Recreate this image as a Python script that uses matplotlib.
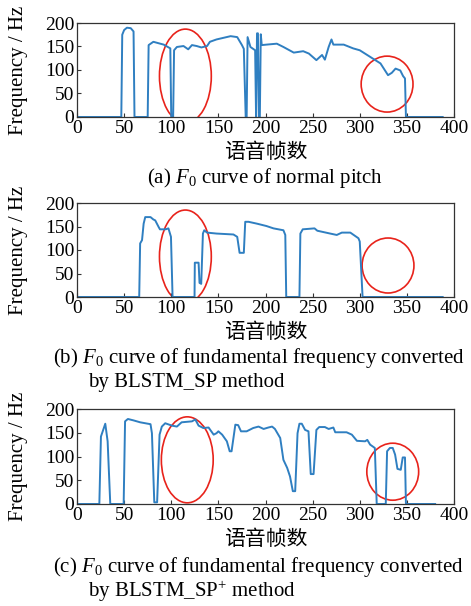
#!/usr/bin/env python3
"""F0 curves: normal pitch vs. BLSTM_SP vs. BLSTM_SP+ conversion"""

import matplotlib
matplotlib.use('Agg')
import matplotlib.pyplot as plt
from matplotlib.patches import Ellipse

# (a) normal pitch
frames_a = [0, 47, 48, 50, 53, 57, 60, 61, 75, 76, 81, 92, 99, 100, 102, 103, 106, 113, 118,
            122, 127, 132, 138, 141, 148, 163, 170, 175, 177, 179, 180, 181, 184, 189, 190, 191,
            192, 193, 194, 195, 196, 201, 212, 219, 230, 240, 246, 254, 260, 263, 267, 270, 272,
            283, 293, 300, 311, 322, 330, 334, 338, 343, 346, 348, 349, 388]
f0_a = [0, 0, 175, 185, 190, 189, 182, 0, 0, 153, 160, 154, 146, 0, 0, 142, 149, 151, 144,
        153, 151, 148, 151, 160, 165, 172, 170, 153, 145, 0, 0, 170, 149, 142, 0, 178,
        178, 0, 0, 176, 153, 154, 156, 149, 137, 140, 135, 121, 132, 122, 149, 165, 154,
        154, 146, 142, 128, 114, 89, 94, 103, 99, 87, 82, 0, 0]

# (b) BLSTM_SP
frames_b = [0, 66, 67, 69, 70.7, 72.4, 78, 81, 83, 86.6, 88, 94, 97, 99.7, 101.4, 124.7, 125,
            129, 130, 131.8, 133.6, 135, 138, 148, 166, 170, 172.5, 177, 178.5, 182, 191, 201,
            208.5, 219, 221, 222, 236, 237, 239.5, 252, 255, 268.6, 275.6, 281, 290, 298.6,
            300, 303, 388]
f0_b = [0, 0, 114, 121, 156, 170, 170, 165, 163, 149, 144, 144, 146, 128, 0, 0, 73,
        73, 30, 28, 135, 142, 137, 135, 133, 128, 94, 94, 160, 160, 156, 151,
        146, 142, 132, 0, 0, 135, 144, 146, 141, 135, 132, 137, 137, 125,
        118, 0, 0]

# (c) BLSTM_SP+
frames_c = [0, 23.7, 25.4, 30, 32.5, 35.3, 49.5, 51, 54, 60, 67, 78, 79.5, 82, 85, 87.6, 90,
            93.6, 100.7, 106, 111, 122, 125.5, 129, 134, 139.6, 145, 148, 150, 154, 159, 162,
            164, 168, 171, 174, 180, 187, 192.6, 198, 203, 207, 210, 215.6, 219, 223, 226, 229,
            231.5, 234, 236, 238.5, 242, 245.6, 248, 251, 254, 257, 263, 267, 272, 274, 286,
            291.6, 297, 305.7, 308, 311, 316, 318, 327.6, 329, 332, 335, 337.5, 340, 343.5,
            345.6, 348, 349, 380]
f0_c = [0, 0, 142, 169, 132, 0, 0, 174, 179, 176, 172, 168, 149, 3.5, 3.5, 146, 163,
        170, 165, 163, 172, 174, 178, 165, 160, 161, 146, 149, 153, 146, 132, 111,
        111, 167, 166, 153, 153, 160, 163, 158, 161, 163, 158, 139, 93, 76, 58, 27,
        27, 149, 169, 169, 156, 153, 63, 63, 156, 162, 162, 158, 161, 151, 151,
        146, 133, 132, 135, 125, 118, 0, 0, 111, 118, 118, 104, 74, 72,
        98, 98, 0, 0]

# highlighted regions: (center frame, center Hz, width, height)
circles_a = [(115, 87, 55, 200), (329, 70, 55, 119)]
circles_b = [(115, 86, 55, 198), (330, 67, 55, 117)]
circles_c = [(117, 93, 55, 181), (335, 68, 55, 120)]

captions = [
    [r'(a) $F_0$ curve of normal pitch'],
    [r'(b) $F_0$ curve of fundamental frequency converted', 'by BLSTM_SP method'],
    [r'(c) $F_0$ curve of fundamental frequency converted', r'by BLSTM_SP$^{+}$ method'],
]

W, H = 471, 606
LINE = '#2f7fc1'
FAMILY = ['Liberation Serif', 'Noto Sans CJK SC']


def fy(px):
    return 1 - px / H


def main():
    plt.rcParams['font.family'] = FAMILY
    plt.rcParams['mathtext.fontset'] = 'custom'
    plt.rcParams['mathtext.rm'] = 'Liberation Serif'
    plt.rcParams['mathtext.it'] = 'Liberation Serif:italic'

    fig = plt.figure(figsize=(W / 100, H / 100), dpi=100)

    # axes box in pixels: top, bottom
    boxes = [(23, 117), (203, 297), (409, 504)]
    xlab_y = [153, 333, 540]
    cap_y = [[178], [358, 383], [567, 591]]
    series = [(frames_a, f0_a, circles_a), (frames_b, f0_b, circles_b), (frames_c, f0_c, circles_c)]
    left, right = 77, 454

    for i, (top, bot) in enumerate(boxes):
        ax = fig.add_axes([left / W, fy(bot), (right - left) / W, (bot - top) / H])
        x, y, circ = series[i]
        ax.plot(x, y, color=LINE, linewidth=1.4)
        for cx, cy, w, h in circ:
            ax.add_patch(Ellipse((cx, cy), w, h, fill=False, edgecolor='#e8231b', linewidth=1.2))
        ax.set_xlim(0, 400)
        ax.set_ylim(0, 200)
        ax.set_xticks(range(0, 401, 50))
        ax.set_yticks(range(0, 201, 50))
        ax.tick_params(direction='in', length=3, labelsize=14, pad=2, color='#333333')
        for s in ax.spines.values():
            s.set_linewidth(0.9)
            s.set_color('#333333')
        ax.set_ylabel('Frequency / Hz', fontsize=15)
        ax.yaxis.set_label_coords((28 - left) / (right - left), 0.5)

        fig.text((left + right) / 2 / W, fy(xlab_y[i]), '语音帧数', fontsize=15,
                 ha='center', va='center', family=FAMILY)
        caps = captions[i]
        if len(caps) == 1:
            fig.text((left + right) / 2 / W, fy(cap_y[i][0]), caps[0], fontsize=15,
                     ha='center', va='center')
        else:
            fig.text(53 / W, fy(cap_y[i][0]), caps[0], fontsize=15, ha='left', va='center')
            fig.text(88 / W, fy(cap_y[i][1]), caps[1], fontsize=15, ha='left', va='center')

    fig.savefig('out.png', dpi=100)
    plt.close(fig)


if __name__ == '__main__':
    main()
